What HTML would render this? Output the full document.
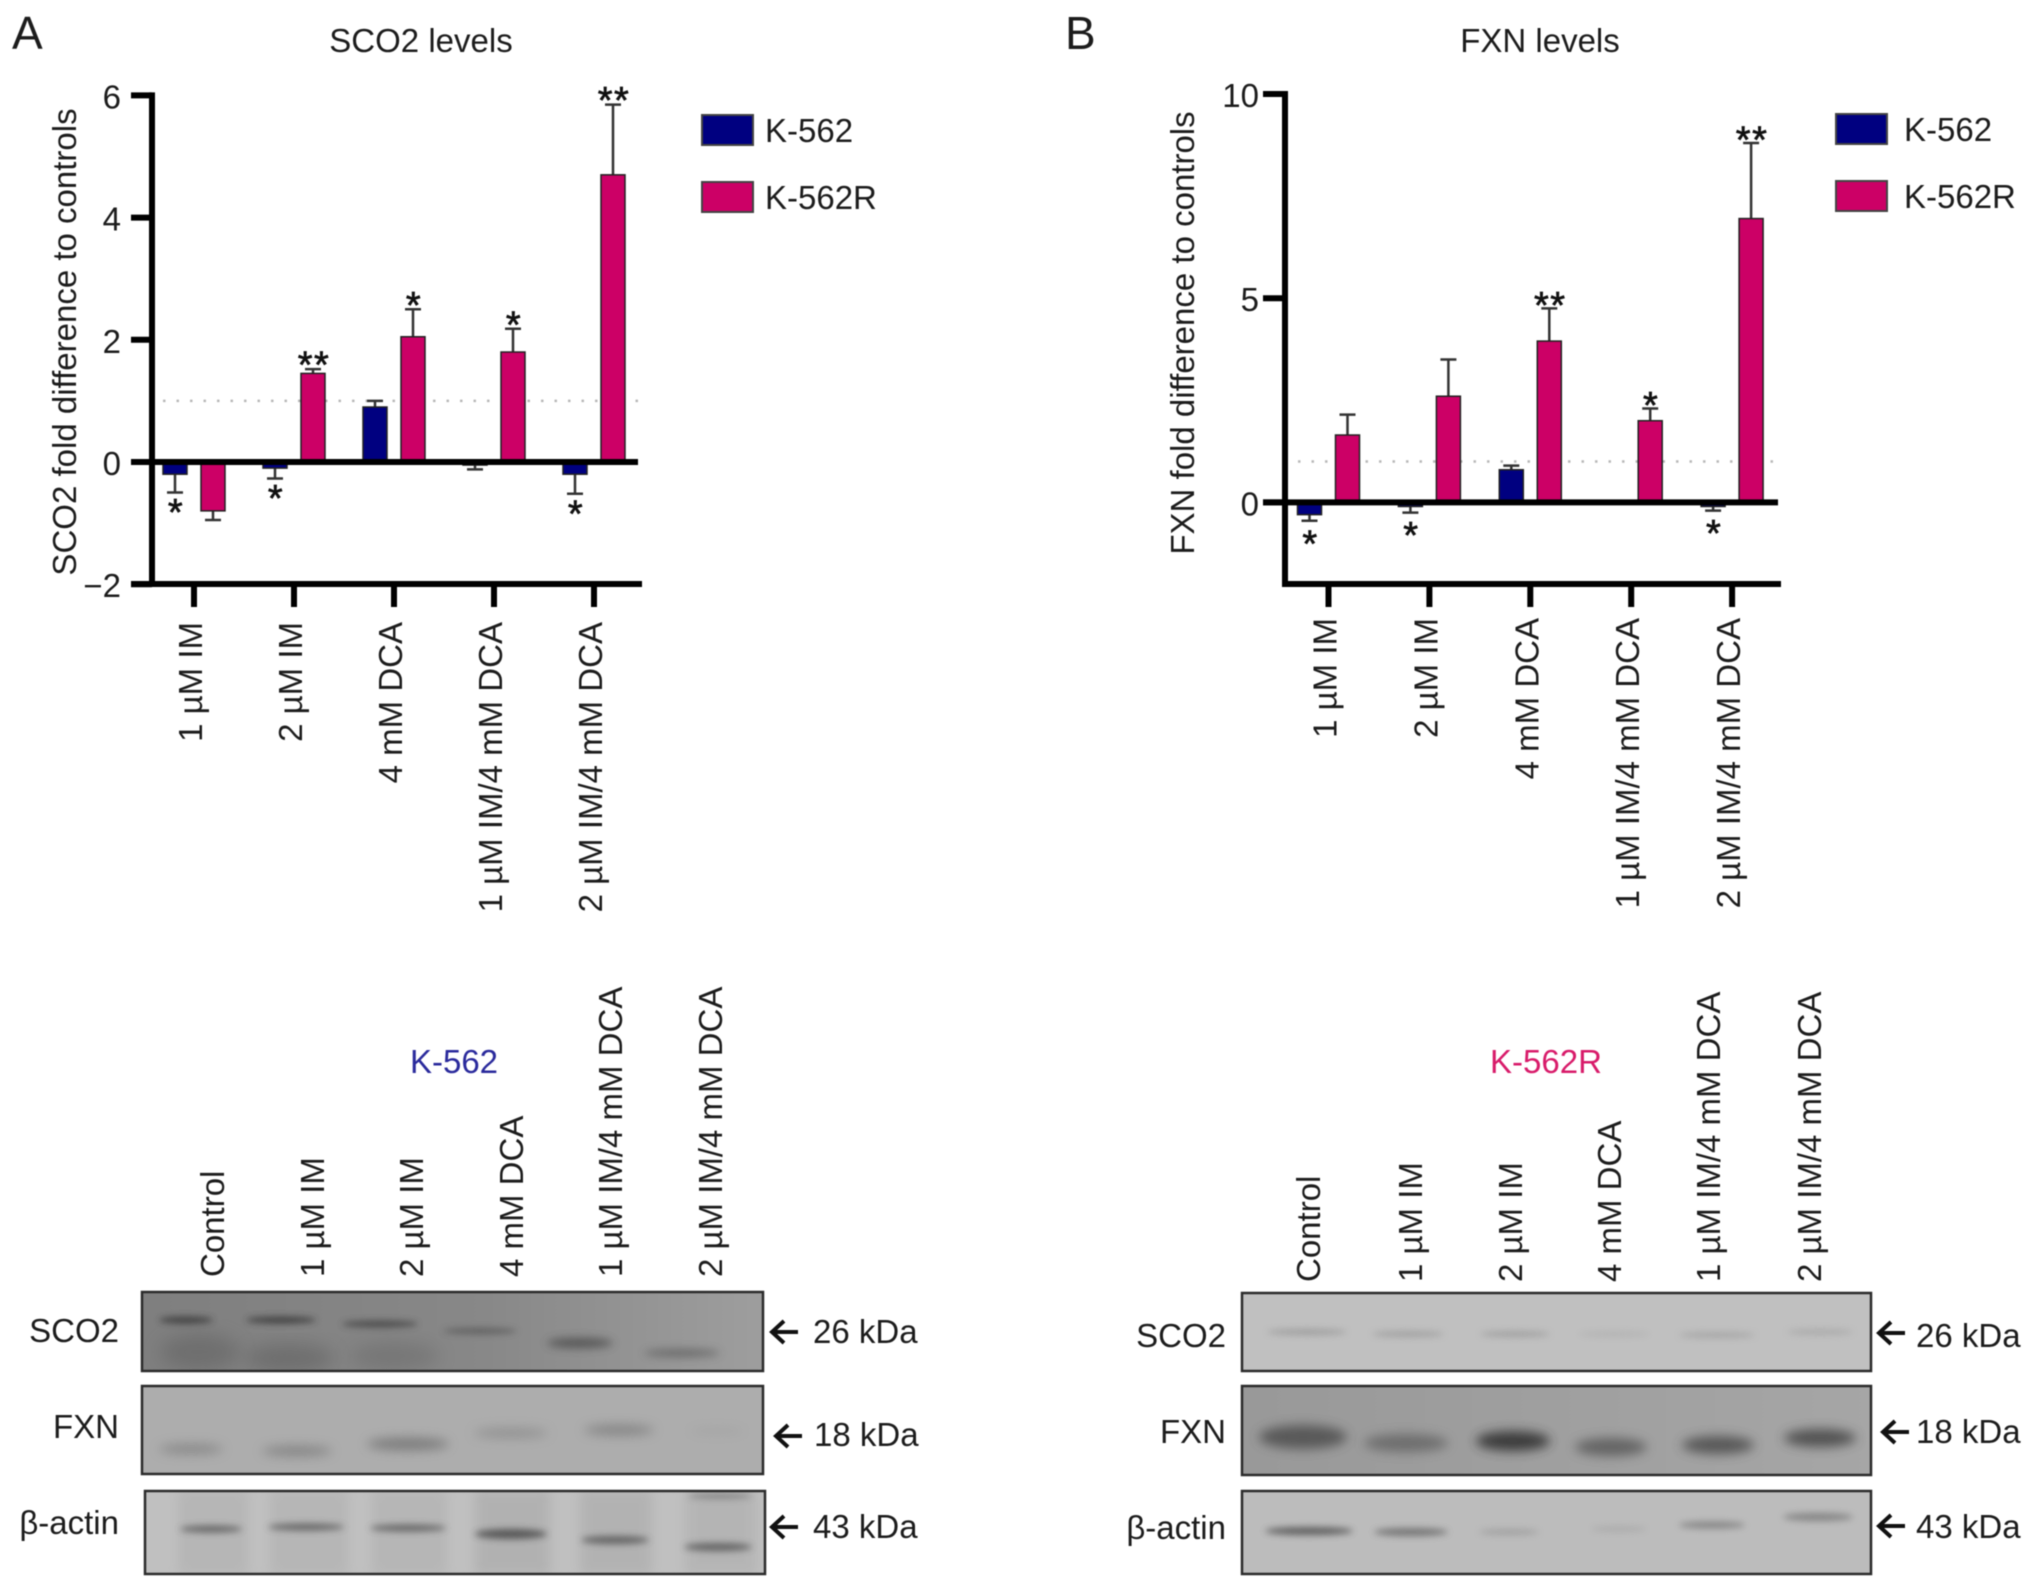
<!DOCTYPE html>
<html>
<head>
<meta charset="utf-8">
<title>SCO2 and FXN levels</title>
<style>
html,body{margin:0;padding:0;background:#fff;}
svg{display:block;filter:blur(0.55px);}
text{font-family:"Liberation Sans",sans-serif;font-size:33px;fill:#1c1c1c;}
</style>
</head>
<body>
<svg id="fig" xmlns="http://www.w3.org/2000/svg" width="2032" height="1589" viewBox="0 0 2032 1589">
<defs>
<filter id="b3" x="-30%" y="-200%" width="160%" height="500%"><feGaussianBlur stdDeviation="3.5"/></filter>
<filter id="b4" x="-30%" y="-200%" width="160%" height="500%"><feGaussianBlur stdDeviation="4.5"/></filter>
<filter id="b5" x="-30%" y="-150%" width="160%" height="400%"><feGaussianBlur stdDeviation="5.5"/></filter>
<filter id="b9" x="-40%" y="-40%" width="180%" height="180%"><feGaussianBlur stdDeviation="9"/></filter>
<linearGradient id="gL1" x1="0" x2="1" y1="0" y2="0"><stop offset="0" stop-color="#7f7f7f"/><stop offset=".55" stop-color="#888"/><stop offset="1" stop-color="#9e9e9e"/></linearGradient>
<linearGradient id="gR2" x1="0" x2="1" y1="0" y2="0"><stop offset="0" stop-color="#999"/><stop offset="1" stop-color="#a6a6a6"/></linearGradient>
<clipPath id="cL1"><rect x="142" y="1292" width="621" height="79"/></clipPath>
<clipPath id="cL2"><rect x="142" y="1386" width="621" height="88"/></clipPath>
<clipPath id="cL3"><rect x="145" y="1491" width="620" height="83"/></clipPath>
<clipPath id="cR1"><rect x="1242" y="1293" width="629" height="78"/></clipPath>
<clipPath id="cR2"><rect x="1242" y="1386" width="629" height="89"/></clipPath>
<clipPath id="cR3"><rect x="1242" y="1491" width="629" height="83"/></clipPath>
</defs>

<text x="12" y="49" style="font-size:46px">A</text>
<text x="1065" y="49" style="font-size:46px">B</text>

<g id="chart-a"></g>
<g id="chart-b"></g>

<!-- left blots -->
<g>
<text x="454" y="1073" text-anchor="middle" style="fill:#2a2a9c">K-562</text>
<g>
<text transform="translate(224,1277) rotate(-90)">Control</text>
<text transform="translate(324,1277) rotate(-90)">1 µM IM</text>
<text transform="translate(423,1277) rotate(-90)">2 µM IM</text>
<text transform="translate(523,1277) rotate(-90)">4 mM DCA</text>
<text transform="translate(622,1277) rotate(-90)">1 µM IM/4 mM DCA</text>
<text transform="translate(722,1277) rotate(-90)">2 µM IM/4 mM DCA</text>
</g>
<g>
<rect x="142" y="1292" width="621" height="79" fill="url(#gL1)"/>
<g clip-path="url(#cL1)">
<ellipse cx="200" cy="1352" rx="40" ry="18" fill="#555" opacity=".4" filter="url(#b9)"/>
<ellipse cx="290" cy="1358" rx="45" ry="14" fill="#555" opacity=".45" filter="url(#b9)"/>
<ellipse cx="395" cy="1356" rx="45" ry="14" fill="#555" opacity=".3" filter="url(#b9)"/>
<ellipse cx="186" cy="1320" rx="27" ry="3.5" fill="#333" opacity=".8" filter="url(#b3)"/>
<ellipse cx="281" cy="1320" rx="35" ry="3.5" fill="#333" opacity=".8" filter="url(#b3)"/>
<ellipse cx="380" cy="1324" rx="38" ry="3.5" fill="#3a3a3a" opacity=".75" filter="url(#b3)"/>
<ellipse cx="480" cy="1331" rx="37" ry="3" fill="#444" opacity=".6" filter="url(#b3)"/>
<ellipse cx="580" cy="1343" rx="33" ry="5" fill="#3d3d3d" opacity=".7" filter="url(#b4)"/>
<ellipse cx="682" cy="1353" rx="38" ry="3.5" fill="#4a4a4a" opacity=".65" filter="url(#b4)"/>
</g>
<rect x="142" y="1292" width="621" height="79" fill="none" stroke="#2b2b2b" stroke-width="2.5"/>
</g>
<g>
<rect x="142" y="1386" width="621" height="88" fill="#adadad"/>
<g clip-path="url(#cL2)">
<ellipse cx="191" cy="1449" rx="32" ry="5" fill="#707070" opacity=".6" filter="url(#b5)"/>
<ellipse cx="297" cy="1451" rx="35" ry="5" fill="#686868" opacity=".6" filter="url(#b5)"/>
<ellipse cx="408" cy="1444" rx="41" ry="6" fill="#636363" opacity=".7" filter="url(#b5)"/>
<ellipse cx="511" cy="1433" rx="37" ry="5" fill="#7a7a7a" opacity=".55" filter="url(#b5)"/>
<ellipse cx="619" cy="1430" rx="35" ry="5" fill="#6c6c6c" opacity=".65" filter="url(#b5)"/>
<ellipse cx="717" cy="1431" rx="29" ry="4" fill="#999" opacity=".35" filter="url(#b5)"/>
</g>
<rect x="142" y="1386" width="621" height="88" fill="none" stroke="#2b2b2b" stroke-width="2.5"/>
</g>
<g>
<rect x="145" y="1491" width="620" height="83" fill="#c0c0c0"/>
<g clip-path="url(#cL3)">
<rect x="178" y="1490" width="70" height="85" fill="#aaa" opacity=".45" filter="url(#b5)"/>
<rect x="270" y="1490" width="78" height="85" fill="#aaa" opacity=".45" filter="url(#b5)"/>
<rect x="372" y="1490" width="75" height="85" fill="#aaa" opacity=".45" filter="url(#b5)"/>
<rect x="475" y="1490" width="75" height="85" fill="#a6a6a6" opacity=".55" filter="url(#b5)"/>
<rect x="580" y="1490" width="72" height="85" fill="#a6a6a6" opacity=".5" filter="url(#b5)"/>
<rect x="685" y="1490" width="72" height="85" fill="#aaa" opacity=".5" filter="url(#b5)"/>
<ellipse cx="211" cy="1529" rx="31" ry="3.5" fill="#4c4c4c" opacity=".75" filter="url(#b3)"/>
<ellipse cx="306" cy="1527" rx="38" ry="3.5" fill="#4c4c4c" opacity=".75" filter="url(#b3)"/>
<ellipse cx="408" cy="1528" rx="38" ry="3.5" fill="#4c4c4c" opacity=".75" filter="url(#b3)"/>
<ellipse cx="511" cy="1534" rx="36" ry="5" fill="#3a3a3a" opacity=".75" filter="url(#b3)"/>
<ellipse cx="615" cy="1540" rx="34" ry="4" fill="#484848" opacity=".75" filter="url(#b3)"/>
<ellipse cx="718" cy="1547" rx="34" ry="4" fill="#484848" opacity=".75" filter="url(#b3)"/>
<ellipse cx="720" cy="1496" rx="32" ry="3" fill="#555" opacity=".5" filter="url(#b3)"/>
</g>
<rect x="145" y="1491" width="620" height="83" fill="none" stroke="#2b2b2b" stroke-width="2.5"/>
</g>
<text x="119" y="1342" text-anchor="end">SCO2</text>
<text x="119" y="1438" text-anchor="end">FXN</text>
<text x="119" y="1534" text-anchor="end">β-actin</text>
<path d="M798 1332H773M784 1321L772 1332L784 1343" fill="none" stroke="#111" stroke-width="4"/>
<path d="M802 1436H777M788 1425L776 1436L788 1447" fill="none" stroke="#111" stroke-width="4"/>
<path d="M798 1527H773M784 1516L772 1527L784 1538" fill="none" stroke="#111" stroke-width="4"/>
<text x="813" y="1343">26 kDa</text>
<text x="814" y="1446">18 kDa</text>
<text x="813" y="1538">43 kDa</text>
</g>

<!-- right blots -->
<g>
<text x="1546" y="1073" text-anchor="middle" style="fill:#d81b6a">K-562R</text>
<g>
<text transform="translate(1320,1282) rotate(-90)">Control</text>
<text transform="translate(1422,1282) rotate(-90)">1 µM IM</text>
<text transform="translate(1522,1282) rotate(-90)">2 µM IM</text>
<text transform="translate(1621,1282) rotate(-90)">4 mM DCA</text>
<text transform="translate(1720,1282) rotate(-90)">1 µM IM/4 mM DCA</text>
<text transform="translate(1821,1282) rotate(-90)">2 µM IM/4 mM DCA</text>
</g>
<g>
<rect x="1242" y="1293" width="629" height="78" fill="#c0c0c0"/>
<g clip-path="url(#cR1)">
<ellipse cx="1307" cy="1332" rx="40" ry="3" fill="#8c8c8c" opacity=".65" filter="url(#b3)"/>
<ellipse cx="1408" cy="1334" rx="36" ry="3" fill="#8c8c8c" opacity=".6" filter="url(#b3)"/>
<ellipse cx="1515" cy="1334" rx="35" ry="3" fill="#8c8c8c" opacity=".6" filter="url(#b3)"/>
<ellipse cx="1614" cy="1334" rx="36" ry="3" fill="#a5a5a5" opacity=".45" filter="url(#b3)"/>
<ellipse cx="1717" cy="1335" rx="38" ry="3" fill="#919191" opacity=".55" filter="url(#b3)"/>
<ellipse cx="1820" cy="1332" rx="33" ry="3" fill="#999" opacity=".55" filter="url(#b3)"/>
</g>
<rect x="1242" y="1293" width="629" height="78" fill="none" stroke="#2b2b2b" stroke-width="2.5"/>
</g>
<g>
<rect x="1242" y="1386" width="629" height="89" fill="url(#gR2)"/>
<g clip-path="url(#cR2)">
<ellipse cx="1303" cy="1437" rx="44" ry="12" fill="#4a4a4a" opacity=".8" filter="url(#b5)"/>
<ellipse cx="1406" cy="1443" rx="42" ry="9" fill="#5a5a5a" opacity=".7" filter="url(#b5)"/>
<ellipse cx="1513" cy="1441" rx="37" ry="10" fill="#303030" opacity=".9" filter="url(#b5)"/>
<ellipse cx="1611" cy="1447" rx="36" ry="9" fill="#4f4f4f" opacity=".75" filter="url(#b5)"/>
<ellipse cx="1718" cy="1445" rx="36" ry="9" fill="#454545" opacity=".8" filter="url(#b5)"/>
<ellipse cx="1820" cy="1438" rx="36" ry="9" fill="#3c3c3c" opacity=".8" filter="url(#b5)"/>
</g>
<rect x="1242" y="1386" width="629" height="89" fill="none" stroke="#2b2b2b" stroke-width="2.5"/>
</g>
<g>
<rect x="1242" y="1491" width="629" height="83" fill="#bcbcbc"/>
<g clip-path="url(#cR3)">
<ellipse cx="1309" cy="1531" rx="44" ry="4" fill="#484848" opacity=".8" filter="url(#b3)"/>
<ellipse cx="1411" cy="1532" rx="37" ry="4" fill="#595959" opacity=".7" filter="url(#b3)"/>
<ellipse cx="1509" cy="1532" rx="30" ry="3" fill="#8a8a8a" opacity=".55" filter="url(#b3)"/>
<ellipse cx="1619" cy="1529" rx="28" ry="3" fill="#999" opacity=".45" filter="url(#b3)"/>
<ellipse cx="1712" cy="1525" rx="33" ry="3.5" fill="#696969" opacity=".65" filter="url(#b3)"/>
<ellipse cx="1818" cy="1517" rx="35" ry="4" fill="#696969" opacity=".65" filter="url(#b3)"/>
</g>
<rect x="1242" y="1491" width="629" height="83" fill="none" stroke="#2b2b2b" stroke-width="2.5"/>
</g>
<text x="1226" y="1347" text-anchor="end">SCO2</text>
<text x="1226" y="1443" text-anchor="end">FXN</text>
<text x="1226" y="1539" text-anchor="end">β-actin</text>
<path d="M1905 1333H1880M1891 1322L1879 1333L1891 1344" fill="none" stroke="#111" stroke-width="4"/>
<path d="M1909 1432H1884M1895 1421L1883 1432L1895 1443" fill="none" stroke="#111" stroke-width="4"/>
<path d="M1905 1526H1880M1891 1515L1879 1526L1891 1537" fill="none" stroke="#111" stroke-width="4"/>
<text x="1916" y="1347">26 kDa</text>
<text x="1916" y="1443">18 kDa</text>
<text x="1916" y="1538">43 kDa</text>
</g>
</svg>

<script>
// Shared categories and series names
const categories = ['1 µM IM', '2 µM IM', '4 mM DCA', '1 µM IM/4 mM DCA', '2 µM IM/4 mM DCA'];
const seriesNames = ['K-562', 'K-562R'];

// Panel A values
const sco2K562 = [-0.2, -0.1, 0.9, -0.05, -0.2];
const sco2K562Err = [0.3, 0.17, 0.1, 0.07, 0.32];
const sco2K562Sig = ['*', '*', '', '', '*'];
const sco2K562R = [-0.8, 1.45, 2.05, 1.8, 4.7];
const sco2K562RErr = [0.15, 0.07, 0.45, 0.38, 1.15];
const sco2K562RSig = ['', '**', '*', '*', '**'];
const sco2Ticks = [-2, 0, 2, 4, 6];

// Panel B values
const fxnK562 = [-0.3, -0.1, 0.8, 0, -0.1];
const fxnK562Err = [0.15, 0.15, 0.1, 0, 0.1];
const fxnK562Sig = ['*', '*', '', '', '*'];
const fxnK562R = [1.65, 2.6, 3.95, 2.0, 6.95];
const fxnK562RErr = [0.5, 0.9, 0.8, 0.3, 1.85];
const fxnK562RSig = ['', '', '**', '*', '**'];
const fxnTicks = [0, 5, 10];

const NS = 'http://www.w3.org/2000/svg';
const colors = ['#000080', '#cc0066'];

function mk(parent, tag, props, txt) {
  const el = document.createElementNS(NS, tag);
  for (const k in props) el.setAttribute(k, props[k]);
  if (txt !== undefined) el.textContent = txt;
  parent.appendChild(el);
  return el;
}

function drawChart(c) {
  const root = document.getElementById(c.id);
  const yScale = v => c.yZero - v * c.unit;
  const xScale = i => c.xFirst + i * c.xStep;

  const title = mk(root, 'text', {x: c.titleX, y: 52, 'text-anchor': 'middle'}, c.title);
  
  

  const yTitle = mk(root, 'text', {transform: 'translate(' + c.yTitleX + ',' + c.yTitleY + ') rotate(-90)', 'text-anchor': 'middle'}, c.yTitle);
  
  

  const ref = mk(root, 'line', {x1: c.refX1, x2: c.refX2, y1: yScale(1), y2: yScale(1), stroke: '#b8b8b8', 'stroke-width': 2.5, 'stroke-dasharray': '2.5 11'});
  
  

  const group = (vals, errs, sigs, s, off) => {
    vals.forEach((v, i) => {
      const cx = xScale(i) + off;
      const y0 = yScale(0), yv = yScale(v);
      if (v !== 0) {
        const dir = v >= 0 ? 1 : -1;
        const tip = yScale(v + dir * errs[i]);
        const err = mk(root, 'path', {d: 'M' + cx + ' ' + yv + 'V' + tip + 'M' + (cx - 8) + ' ' + tip + 'H' + (cx + 8), fill: 'none', stroke: '#333', 'stroke-width': 2.5});
        
        
        const bar = mk(root, 'rect', {x: cx - 12, y: Math.min(y0, yv), width: 24, height: Math.abs(yv - y0), fill: colors[s], stroke: '#222', 'stroke-width': 1.5});
        
        
      }
      if (sigs[i]) {
        const dir = v >= 0 ? 1 : -1;
        const tip = yScale(v + dir * errs[i]);
        const centre = dir > 0 ? tip + c.starAbove : tip + c.starBelow;
        const star = mk(root, 'text', {x: cx + 1, y: centre + 21.6, 'text-anchor': 'middle', style: 'font-size:38px;fill:#111;stroke:#111;stroke-width:.7;letter-spacing:1.5px'}, sigs[i]);
        
        
      }
    });
  };
  group(c.a, c.aErr, c.aSig, 0, -19);
  group(c.b, c.bErr, c.bSig, 1, 19);

  const axisStyle = {stroke: '#000', 'stroke-width': 6, fill: 'none'};
  const yAxis = mk(root, 'line', Object.assign({x1: c.axisX, x2: c.axisX, y1: yScale(c.yMax) - 3, y2: c.yBottom + 3}, axisStyle));
  
  

  const xAxis = mk(root, 'line', Object.assign({x1: c.bottomX1, x2: c.bottomX2, y1: c.yBottom, y2: c.yBottom}, axisStyle));
  
  

  const zero = mk(root, 'line', Object.assign({x1: c.tickLeft, x2: c.zeroX2, y1: yScale(0), y2: yScale(0)}, axisStyle));
  
  

  c.ticks.forEach(t => {
    const ty = yScale(t);
    const tick = mk(root, 'line', Object.assign({x1: c.tickLeft, x2: c.axisX, y1: ty, y2: ty}, axisStyle));
    
    
    const lab = mk(root, 'text', {x: c.tickLabelX, y: ty + 13, 'text-anchor': 'end'}, String(t).replace('-', '\u2212'));
    
    
  });
  categories.forEach((name, i) => {
    const tx = xScale(i);
    const tick = mk(root, 'line', Object.assign({x1: tx, x2: tx, y1: c.yBottom, y2: c.yBottom + 23}, axisStyle));
    
    
    const lab = mk(root, 'text', {transform: 'translate(' + (tx + 8) + ',' + c.xLabelTop + ') rotate(-90)', 'text-anchor': 'end'}, name);
    
    
  });

  seriesNames.forEach((name, s) => {
    const ly = c.legendY + s * 67;
    const sw = mk(root, 'rect', {x: c.legendX, y: ly, width: 51, height: 30, fill: colors[s], stroke: '#444', 'stroke-width': 2});
    
    
    const lt = mk(root, 'text', {x: c.legendX + c.legendGap, y: ly + 27}, name);
    
    
  });
}

drawChart({
  id: 'chart-a', title: 'SCO2 levels', titleX: 421,
  yTitle: 'SCO2 fold difference to controls', yTitleX: 76, yTitleY: 342,
  a: sco2K562, aErr: sco2K562Err, aSig: sco2K562Sig,
  b: sco2K562R, bErr: sco2K562RErr, bSig: sco2K562RSig,
  ticks: sco2Ticks, yMax: 6, yZero: 462, unit: 61.1, yBottom: 584,
  axisX: 152, tickLeft: 131, tickLabelX: 121,
  bottomX1: 131, bottomX2: 642, zeroX2: 638,
  xFirst: 194, xStep: 100, xLabelTop: 622,
  refX1: 163, refX2: 638, starAbove: -13, starBelow: 11,
  legendX: 702, legendY: 115, legendGap: 63
});
drawChart({
  id: 'chart-b', title: 'FXN levels', titleX: 1540,
  yTitle: 'FXN fold difference to controls', yTitleX: 1194, yTitleY: 333,
  a: fxnK562, aErr: fxnK562Err, aSig: fxnK562Sig,
  b: fxnK562R, bErr: fxnK562RErr, bSig: fxnK562RSig,
  ticks: fxnTicks, yMax: 10, yZero: 502.4, unit: 40.84, yBottom: 584,
  axisX: 1285, tickLeft: 1263, tickLabelX: 1259,
  bottomX1: 1282, bottomX2: 1781, zeroX2: 1778,
  xFirst: 1328.5, xStep: 100.9, xLabelTop: 618,
  refX1: 1298, refX2: 1777, starAbove: -12, starBelow: 14,
  legendX: 1836, legendY: 114, legendGap: 68
});
</script>
</body>
</html>
